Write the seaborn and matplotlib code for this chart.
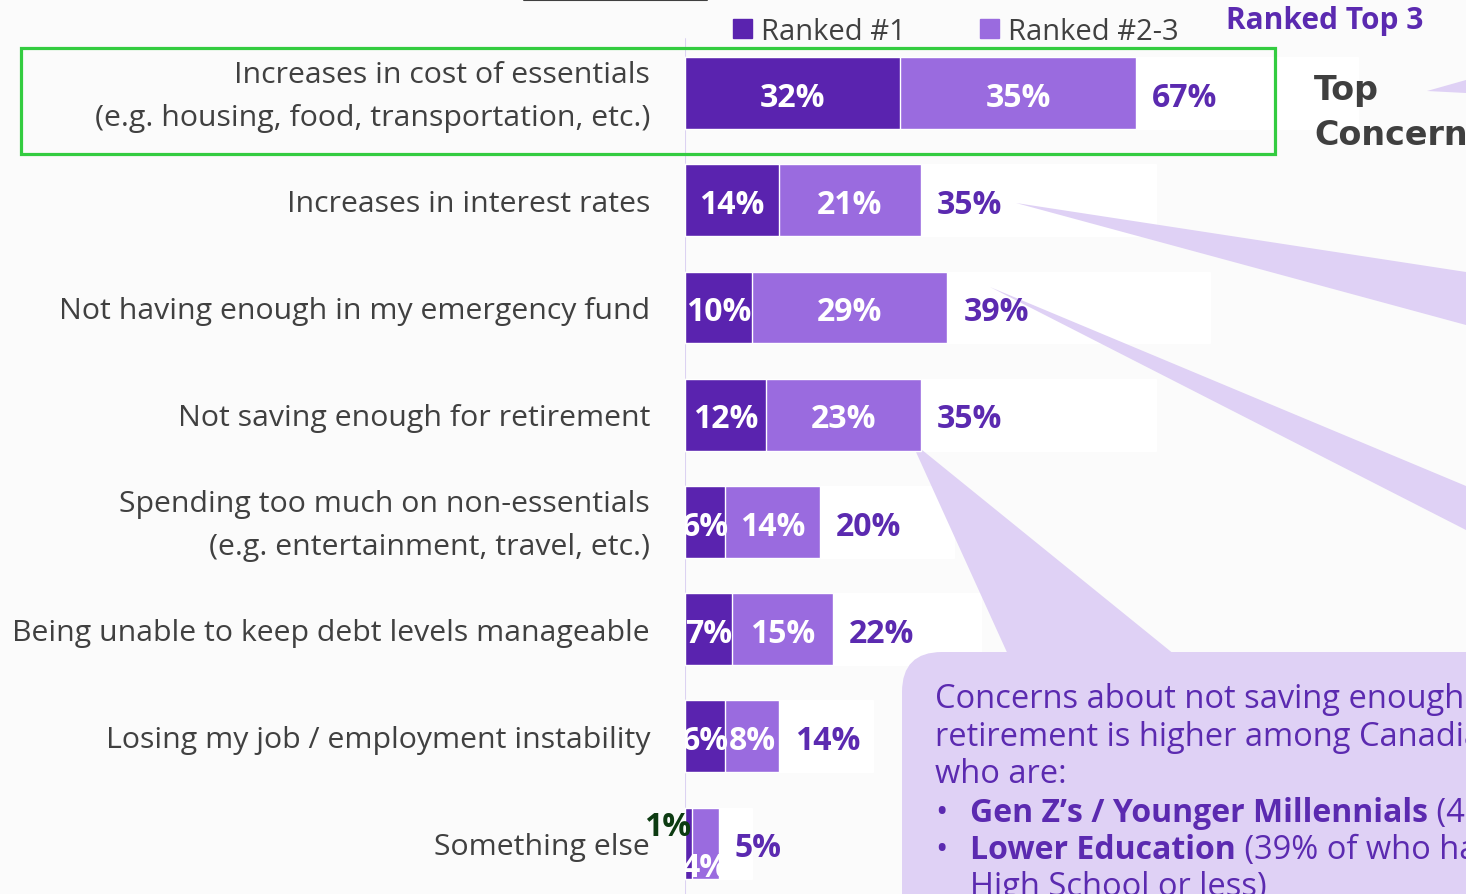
import numpy as np
import pandas as pd
import seaborn as sns
import matplotlib.pyplot as plt
from matplotlib.patches import Patch, Polygon, Rectangle, FancyBboxPatch
from matplotlib.transforms import Affine2D
from matplotlib.lines import Line2D

# data
concerns = [
    "Increases in cost of essentials\n(e.g. housing, food, transportation, etc.)",
    "Increases in interest rates",
    "Not having enough in my emergency fund",
    "Not saving enough for retirement",
    "Spending too much on non-essentials\n(e.g. entertainment, travel, etc.)",
    "Being unable to keep debt levels manageable",
    "Losing my job / employment instability",
    "Something else",
]
ranked_1 = [32, 14, 10, 12, 6, 7, 6, 1]
ranked_2_3 = [35, 21, 29, 23, 14, 15, 8, 4]
ranked_top_3 = [67, 35, 39, 35, 20, 22, 14, 5]
backdrop = [100, 70, 78, 70, 40, 44, 28, 10]   # white panels behind each bar

DARK = "#5A23AF"
LIGHT = "#9A6BDF"
LAV = "#DFD1F5"
TXT = "#404040"
PURPLE_TXT = "#5B2AB0"
GREEN = "#33CC40"
BG = "#FBFBFB"

W, H = 1466, 895
PX_PER_PCT = 6.73

sns.set_style("white")
plt.rcParams["font.family"] = ["Open Sans", "DejaVu Sans"]

fig = plt.figure(figsize=(W / 100, H / 100), dpi=100, facecolor=BG)
px = Affine2D().scale(1 / W, -1 / H).translate(0, 1) + fig.transFigure

ax = fig.add_axes([685 / W, 0, 1 - 685 / W, 1])
ax.set_facecolor("none")

df = pd.DataFrame({
    "concern": concerns,
    "rank1": ranked_1,
    "rank23": ranked_2_3,
    "top3": ranked_top_3,
    "backdrop": backdrop,
})

sns.barplot(data=df, y="concern", x="backdrop", color="white", width=0.67,
            saturation=1, errorbar=None, ax=ax, zorder=0.5)
sns.barplot(data=df, y="concern", x="top3", color=LIGHT, width=0.67,
            saturation=1, errorbar=None, ax=ax, zorder=2)
sns.barplot(data=df, y="concern", x="rank1", color=DARK, width=0.67,
            saturation=1, errorbar=None, ax=ax, zorder=2.1)

ax.set_xlim(0, (W - 685) / PX_PER_PCT)
ax.set_ylim(7 + (H - 844.5) / 107.2, -94 / 107.2)
ax.set_xlabel("")
ax.set_ylabel("")
ax.set_xticks([])
ax.set_yticks([])
for s in ax.spines.values():
    s.set_visible(False)
ax.axvline(0, ymin=0, ymax=1 - 40 / H, color="#DCD2F2", lw=1.5, zorder=0.4)

# category labels, right-aligned left of the bars
for i, c in enumerate(concerns):
    ax.annotate(c, xy=(0, i), xytext=(-25.2, -2.2), textcoords="offset points",
                ha="right", va="center", multialignment="right",
                linespacing=1.6, fontsize=21.8, color=TXT,
                annotation_clip=False)

# segment labels
lab_kw = dict(ha="center", va="center", color="white", fontsize=23,
              fontweight="bold", zorder=3, clip_on=True)
n = len(concerns)
for i in range(n - 1):
    ax.text(ranked_1[i] / 2, i + 0.04, f"{ranked_1[i]}%", **lab_kw)
    ax.text(ranked_1[i] + ranked_2_3[i] / 2, i + 0.04, f"{ranked_2_3[i]}%", **lab_kw)

# last row: tiny segments
last = n - 1
ax.annotate(f"{ranked_1[last]}%", xy=(ranked_1[last], last), xytext=(-17, 12),
            textcoords="offset points", ha="center", va="center",
            color="#0D3B12", fontsize=23, fontweight="bold", zorder=3,
            annotation_clip=False)
t4 = ax.text(ranked_1[last] + ranked_2_3[last] / 2, last + 0.22,
             f"{ranked_2_3[last]}%", **lab_kw)
t4.set_clip_path(ax.containers[1].patches[last])

# totals
for i, t in enumerate(ranked_top_3):
    ax.annotate(f"{t}%", xy=(t, i + 0.04), xytext=(11.5, 0), textcoords="offset points",
                ha="left", va="center", color=PURPLE_TXT, fontsize=23,
                fontweight="bold", zorder=3)

# callout wedges (pixel coordinates of the slide)
wedges = [
    [(1016, 204), (1466, 273), (1466, 326)],
    [(990, 288), (1466, 487), (1466, 531)],
    [(911, 442), (1010, 660), (1180, 660)],
    [(1427, 92), (1466, 81), (1466, 94)],
]
for w in wedges:
    ax.add_patch(Polygon(w, closed=True, facecolor=LAV, edgecolor="none",
                         transform=px, clip_on=False, zorder=1))

box = FancyBboxPatch((902, 653), 700, 320, boxstyle="round,pad=0,rounding_size=40",
                     facecolor=LAV, edgecolor="none", transform=px, clip_on=False,
                     zorder=1)
ax.add_patch(box)

# callout text (runs off the right edge of the slide, as in the source)
ctx = dict(transform=px, color=PURPLE_TXT, fontsize=23.5, va="baseline",
           ha="left", clip_on=False, zorder=3)
ax.text(935, 708, "Concerns about not saving enough", **ctx)
ax.text(935, 746, "retirement is higher among Canadians", **ctx)
ax.text(935, 783, "who are:", **ctx)
renderer = fig.canvas.get_renderer()
for yb, bold, rest in [(822, "Gen Z\u2019s / Younger Millennials", " (4"),
                       (859, "Lower Education", " (39% of who have")]:
    ax.text(935, yb, "\u2022", **ctx)
    tb = ax.text(970, yb, bold, fontweight="bold", **{**ctx, "fontsize": 23})
    x1 = tb.get_window_extent(renderer).x1
    x1_px = x1 * W / fig.bbox.width
    ax.text(x1_px, yb, rest, **ctx)
ax.text(970, 896, "High School or less)", **ctx)

# green highlight around the top row
fig.add_artist(Rectangle((21, 49), 1254, 106, fill=False, edgecolor=GREEN,
                         lw=2.3, transform=px, zorder=5))

# header bits
fig.add_artist(Line2D([524, 707], [0.8, 0.8], color=TXT, lw=1.5, transform=px))
fig.text(1325, 21, "Ranked Top 3", transform=px, ha="center", va="center",
         fontsize=21.5, fontweight="bold", color=PURPLE_TXT)
fig.text(1314, 100, "Top", transform=px, ha="left", va="baseline",
         fontsize=24, fontweight="bold", color="#3F3F3F", family="DejaVu Sans")
fig.text(1314, 145, "Concern", transform=px, ha="left", va="baseline",
         fontsize=24, fontweight="bold", color="#3F3F3F", family="DejaVu Sans")

fig.legend(handles=[Patch(color=DARK, label="Ranked #1"),
                    Patch(color=LIGHT, label="Ranked #2-3")],
           ncol=2, loc="center left", bbox_to_anchor=(733 / W, 1 - 32 / H),
           frameon=False, borderpad=0, borderaxespad=0, handlelength=0.65,
           handleheight=0.65, handletextpad=0.3, columnspacing=2.55,
           fontsize=21, labelcolor=TXT)

fig.savefig("out.png", dpi=100, facecolor=BG)
